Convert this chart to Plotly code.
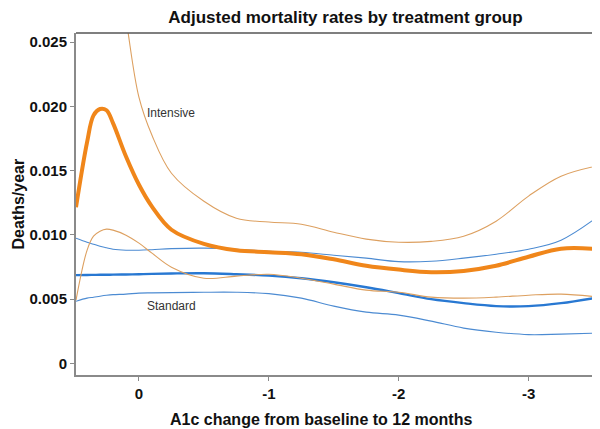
import plotly.graph_objects as go

# ==========================
# DATA
# ==========================

a1c_change = [0.485, 0.4, 0.35, 0.3, 0.25, 0.2, 0.1, 0.0, -0.1, -0.25, -0.5, -0.75,
              -1.0, -1.25, -1.5, -1.75, -2.0, -2.25, -2.5, -2.75, -3.0, -3.25, -3.55]

intensive_rate = [0.01215, 0.0172, 0.0193, 0.0198, 0.0197, 0.0187, 0.0161, 0.0139, 0.0122,
                  0.0104, 0.0093, 0.0088, 0.00866, 0.0085, 0.0081, 0.0076, 0.0073, 0.0071,
                  0.0072, 0.0076, 0.0083, 0.00893, 0.00889]
intensive_upper = [0.057, 0.048, 0.0445, 0.040, 0.0365, 0.033, 0.0268, 0.0207, 0.01775,
                   0.0148, 0.01262, 0.0113, 0.0110, 0.01083, 0.01021, 0.00967, 0.00943,
                   0.0095, 0.0099, 0.01107, 0.01302, 0.01457, 0.01542]
intensive_lower = [0.00492, 0.0088, 0.0099, 0.01029, 0.01045, 0.01037, 0.00998, 0.00936,
                   0.00858, 0.00749, 0.00663, 0.00679, 0.00694, 0.00663, 0.00617, 0.0057,
                   0.00554, 0.00516, 0.00508, 0.00516, 0.00531, 0.00539, 0.00516]

standard_rate = [0.00687, 0.00688, 0.00689, 0.0069, 0.0069, 0.00691, 0.00692, 0.00694,
                 0.00697, 0.0070, 0.00702, 0.00694, 0.00683, 0.00663, 0.00632, 0.00593,
                 0.00547, 0.0050, 0.00469, 0.00446, 0.00446, 0.00469, 0.00516]
standard_upper = [0.00974, 0.00943, 0.00928, 0.00912, 0.0090, 0.00889, 0.00881, 0.00881,
                  0.00885, 0.00893, 0.00897, 0.00889, 0.00873, 0.00865, 0.00842, 0.00819,
                  0.00792, 0.00795, 0.00819, 0.0085, 0.00889, 0.00959, 0.01154]
standard_lower = [0.00484, 0.00508, 0.00515, 0.00523, 0.0053, 0.00535, 0.00539, 0.00547,
                  0.00549, 0.00551, 0.00554, 0.00554, 0.00543, 0.00508, 0.00446, 0.00399,
                  0.00376, 0.00329, 0.00275, 0.00243, 0.00224, 0.00228, 0.00236]

x_ticks = [0, -1, -2, -3]
x_tick_labels = ["0", "-1", "-2", "-3"]
y_ticks = [0, 0.005, 0.010, 0.015, 0.020, 0.025]
y_tick_labels = ["0", "0.005", "0.010", "0.015", "0.020", "0.025"]

FONT = "Arial, Liberation Sans, sans-serif"
ORANGE = "#F0861A"
ORANGE_THIN = "#DDA060"
BLUE = "#2878D2"
BLUE_THIN = "#4C8BD2"
TEXT = "#111111"


def _line(y, color, width):
    return go.Scatter(
        x=a1c_change, y=y, mode="lines",
        line=dict(color=color, width=width, shape="spline", smoothing=1.0),
        hoverinfo="skip", showlegend=False,
    )


fig = go.Figure()
fig.add_trace(_line(standard_lower, BLUE_THIN, 1.1))
fig.add_trace(_line(standard_upper, BLUE_THIN, 1.1))
fig.add_trace(_line(standard_rate, BLUE, 2.4))
fig.add_trace(_line(intensive_lower, ORANGE_THIN, 1.1))
fig.add_trace(_line(intensive_upper, ORANGE_THIN, 1.1))
fig.add_trace(_line(intensive_rate, ORANGE, 4))

# page body has an 8px margin, so the figure is sized to fill the rest of the window
fig.update_layout(
    width=592, height=421,
    margin=dict(l=68, r=0, t=25, b=54),
    plot_bgcolor="white", paper_bgcolor="white",
    font=dict(family=FONT, color=TEXT),
    title=dict(
        text="<b>Adjusted mortality rates by treatment group</b>",
        x=0.570, xanchor="center", y=0.992, yanchor="top", pad=dict(t=0, b=0),
        font=dict(size=17, family=FONT, color=TEXT),
    ),
    xaxis=dict(
        range=[0.485, -3.55], tickvals=x_ticks, ticktext=x_tick_labels,
        showgrid=False, zeroline=False, showline=True, linecolor="#8a8a8a", linewidth=2,
        ticks="outside", ticklen=4, tickcolor="#8a8a8a",
        tickfont=dict(size=15, family=FONT, color=TEXT, weight="bold"),
    ),
    yaxis=dict(
        range=[-0.0009, 0.02571], tickvals=y_ticks, ticktext=y_tick_labels,
        showgrid=False, zeroline=False, showline=True, linecolor="#8a8a8a", linewidth=2,
        ticks="outside", ticklen=4, tickcolor="#8a8a8a",
        tickfont=dict(size=15, family=FONT, color=TEXT, weight="bold"),
    ),
    shapes=[dict(type="line", xref="paper", yref="paper", x0=0, x1=1, y0=1, y1=1,
                 line=dict(color="#555555", width=1.5))],
    annotations=[
        dict(text="Intensive", x=-0.25, y=0.01946, xref="x", yref="y", showarrow=False,
             font=dict(size=12, family=FONT, color="#333333")),
        dict(text="Standard", x=-0.25, y=0.00448, xref="x", yref="y", showarrow=False,
             font=dict(size=12, family=FONT, color="#333333")),
        dict(text="<b>Deaths/year</b>", x=-0.1298, y=0.5, xref="paper", yref="paper",
             xanchor="left", yanchor="middle", textangle=-90, showarrow=False,
             font=dict(size=16, family=FONT, color=TEXT)),
        dict(text="<b>A1c change from baseline to 12 months</b>", x=0.4676, y=-0.1297,
             xref="paper", yref="paper", xanchor="center", yanchor="middle", showarrow=False,
             font=dict(size=16, family=FONT, color=TEXT)),
    ],
)

fig.write_html("out.html")
